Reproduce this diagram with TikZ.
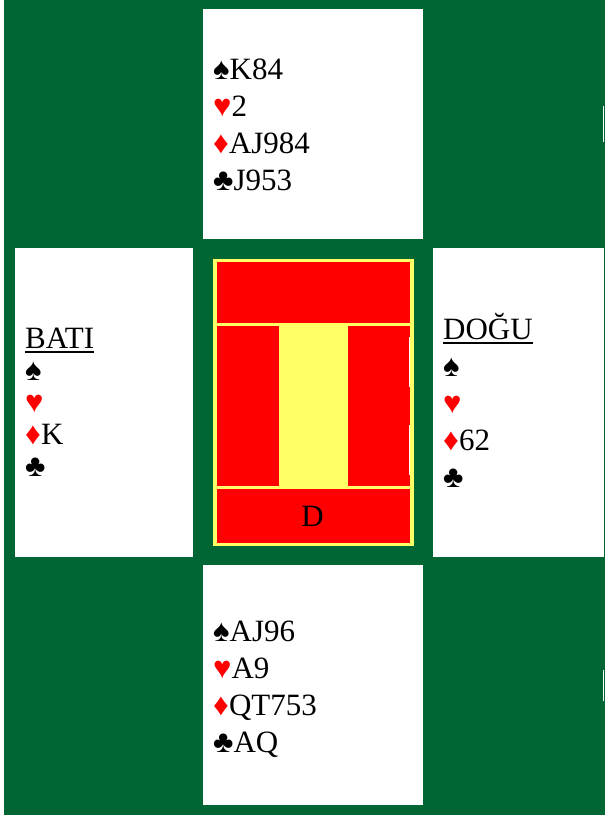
\documentclass[tikz,border=0pt]{standalone}
\usepackage{fontspec}
\setmainfont{Liberation Serif}
\definecolor{felt}{RGB}{0,102,51}
\definecolor{plateyel}{RGB}{255,255,102}
\definecolor{platered}{RGB}{255,0,0}
\newcommand\spd{♠}
\newcommand\hrt{\textcolor{platered}{♥}}
\newcommand\dmd{\textcolor{platered}{♦}}
\newcommand\clb{♣}
\tikzset{
  handcard/.style={fill=white},
  cardtxt/.style={anchor=base west, inner sep=0pt, font=\fontsize{31}{37}\selectfont},
  seatline/.style={line width=1.5pt},
}
\begin{document}
\begin{tikzpicture}[x=1pt, y=-1pt]
  % --- Masa ---
  \fill[white] (0,0) rectangle (605,815);
  \useasboundingbox (0,0) rectangle (605,815);
  \fill[felt] (4,0) rectangle (605,815);
  \draw[white, line width=1pt] (603,106) -- (603,142) (603,670) -- (603,701);

  % --- Kartlar ---
  \fill[handcard] (203,9) rectangle (423,239);   % kuzey
  \fill[handcard] (15,248) rectangle (193,557);  % bati
  \fill[handcard] (433,248) rectangle (604,557); % dogu
  \fill[handcard] (203,565) rectangle (423,805); % guney

  % --- Orta pano ---
  \fill[plateyel] (213,259) rectangle (414,546);
  \fill[platered] (217,262) rectangle (410,323);
  \fill[platered] (217,326) rectangle (279,486);
  \fill[platered] (348,326) rectangle (410,486);
  \fill[platered] (217,489) rectangle (410,543);
  \draw[white, line width=1pt] (409,337) -- (409,387) (409,425) -- (409,475);
  \node[cardtxt, anchor=base] (dealer) at (312.5,526) {D};

  % --- Eller ---
  \foreach \t [count=\i] in {{\spd K84},{\hrt 2},{\dmd AJ984},{\clb J953}}
    \node[cardtxt] (n\i) at (213,42+37*\i) {\t};
  \foreach \t [count=\i] in {{\spd AJ96},{\hrt A9},{\dmd QT753},{\clb AQ}}
    \node[cardtxt] (s\i) at (213,604+37*\i) {\t};
  \node[cardtxt] (west) at (25,348) {BATI};
  \foreach \t [count=\i] in {{\spd},{\hrt},{\dmd K},{\clb}}
    \node[cardtxt] (w\i) at (25,348+32*\i) {\t};
  \node[cardtxt] (east) at (443,339) {DOĞU};
  \foreach \t [count=\i] in {{\spd},{\hrt},{\dmd 62},{\clb}}
    \node[cardtxt] (e\i) at (443,339+37*\i) {\t};
  \draw[seatline] ([yshift=-4pt]west.base west) -- ([yshift=-4pt]west.base east);
  \draw[seatline] ([yshift=-4pt]east.base west) -- ([yshift=-4pt]east.base east);
\end{tikzpicture}
\end{document}
